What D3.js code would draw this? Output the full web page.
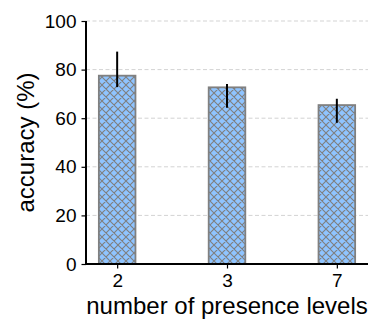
<!DOCTYPE html>
<html>
<head>
<meta charset="utf-8">
<script src="https://cdn.jsdelivr.net/npm/d3@7"></script>
<style>
    body{margin:0;background:#fff;}
    text{font-family:"Liberation Sans",Arial,sans-serif;fill:#000;}
</style>
</head>
<body>
<div class="canvas"></div>
<script>
/* data */
var levels = ['2','3','7'];
var accuracy = [77.5, 72.7, 65.4];
var errLow = [72.8, 64.3, 58.1];
var errHigh = [87.4, 74.1, 68.0];
var yTicks = [0,20,40,60,80,100];

/*set up the canvas */
var W = 382, H = 334;
var margin = {t:21,r:14,b:70,l:86};
var width = W - margin.l - margin.r,
    height = H - margin.t - margin.b;

var svg = d3.select('.canvas')
    .append('svg')
    .attr('width',W)
    .attr('height',H);

//hatch pattern for the bars ('xx' style)
var pat = svg.append('defs')
    .append('pattern')
    .attr('id','hatch')
    .attr('patternUnits','userSpaceOnUse')
    .attr('width',8)
    .attr('height',8);
pat.append('rect')
    .attr('width',8)
    .attr('height',8)
    .style('fill','#8fc4ff');
pat.append('path')
    .attr('d','M0,0L8,8M8,0L0,8M-1,7L1,9M7,-1L9,1M-1,1L1,-1M7,9L9,7')
    .style('stroke','#7f7f7f')
    .style('stroke-width',1.1)
    .style('fill','none');

var plot = svg.append('g')
    .attr('transform','translate('+margin.l+','+margin.t+')');

var data = levels.map(function(d,i){
    return {name:d, i:i, v:accuracy[i], lo:errLow[i], hi:errHigh[i]};
});

//scales: bars sit at 0,1,2 with width 1/3, matplotlib-like margins
var barW = 1/3;
var x = d3.scaleLinear()
    .domain([-barW/2 - 0.117, 2 + barW/2 + 0.117])
    .range([0,width]);
var y = d3.scaleLinear()
    .domain([0,100])
    .range([height,0]);

//dashed grid
plot.selectAll('.grid')
    .data(yTicks.filter(function(d){return d>0;}))
    .enter()
    .append('line')
    .attr('class','grid')
    .attr('x1',0)
    .attr('x2',width)
    .attr('y1',function(d){return y(d);})
    .attr('y2',function(d){return y(d);})
    .style('stroke','#d3d3d3')
    .style('stroke-width',1)
    .style('stroke-dasharray','4,2.5');

//bars
plot.selectAll('.bar')
    .data(data)
    .enter()
    .append('rect')
    .attr('class','bar')
    .attr('x',function(d){return x(d.i - barW/2);})
    .attr('width',function(d){return x(d.i + barW/2) - x(d.i - barW/2);})
    .attr('y',function(d){return y(d.v);})
    .attr('height',function(d){return y(0) - y(d.v);})
    .style('fill','url(#hatch)')
    .style('stroke','#808080')
    .style('stroke-width',1.8);

//error bars
plot.selectAll('.err')
    .data(data)
    .enter()
    .append('line')
    .attr('class','err')
    .attr('x1',function(d){return x(d.i);})
    .attr('x2',function(d){return x(d.i);})
    .attr('y1',function(d){return y(d.lo);})
    .attr('y2',function(d){return y(d.hi);})
    .style('stroke','#000')
    .style('stroke-width',2);

//axes
var yAxis = plot.append('g')
    .call(d3.axisLeft(y).tickValues(yTicks).tickSize(4.5).tickPadding(5));
var xAxis = plot.append('g')
    .attr('transform','translate(0,'+height+')')
    .call(d3.axisBottom(x).tickValues([0,1,2]).tickFormat(function(d){return levels[d];}).tickSize(4.5).tickPadding(5));

[yAxis,xAxis].forEach(function(a){
    a.select('.domain').style('stroke','#000').style('stroke-width',2);
    a.selectAll('.tick line').style('stroke','#000').style('stroke-width',1.2);
    a.selectAll('.tick text')
        .style('font-family','"Liberation Sans",Arial,sans-serif')
        .style('font-size','19px')
        .style('fill','#000');
});
//no outer ticks
yAxis.select('.domain').attr('d','M0,0V'+height);
xAxis.select('.domain').attr('d','M0,0H'+width);

//axis labels
svg.append('text')
    .attr('transform','translate(34,'+(margin.t+height/2)+') rotate(-90)')
    .attr('text-anchor','middle')
    .style('font-size','24px')
    .text('accuracy (%)');

svg.append('text')
    .attr('x',margin.l+width/2)
    .attr('y',314)
    .attr('text-anchor','middle')
    .style('font-size','24px')
    .text('number of presence levels');
</script>
</body>
</html>
